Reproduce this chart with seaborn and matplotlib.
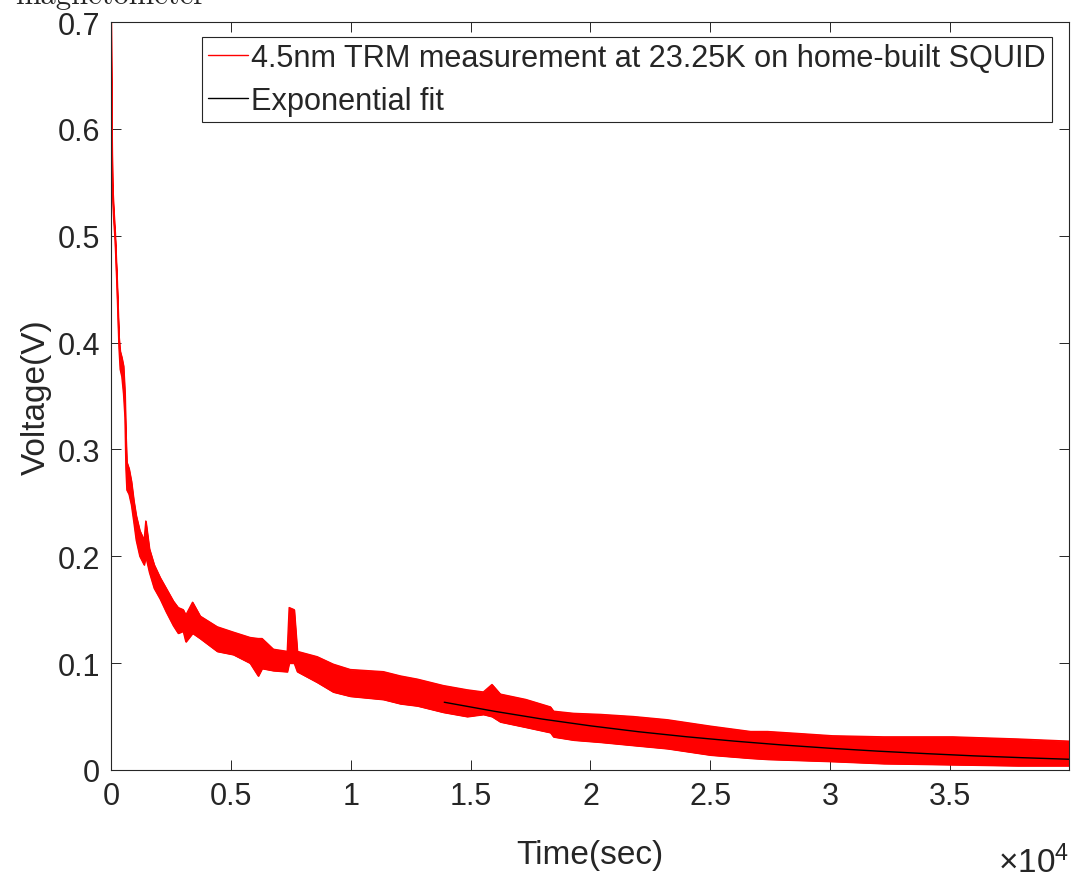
import numpy as np
import pandas as pd
import matplotlib
matplotlib.use("Agg")
import matplotlib.pyplot as plt
import seaborn as sns

# envelope of the noisy TRM trace (time in s, voltage in V)
time_s = [0, 20, 40, 60, 110, 170, 250, 330, 380, 450, 520, 580, 620, 660, 750,
          850, 950, 1050, 1200, 1380, 1450, 1600, 1800, 2050, 2300, 2600, 2800,
          3010, 3120, 3400, 3720, 4430, 5100, 5800, 6140, 6300, 6770, 7350, 7430,
          7640, 7770, 8600, 9270, 9980, 11360, 12070, 12780, 13860, 14860, 15530,
          15890, 16240, 17300, 18330, 18460, 19300, 20420, 21800, 23210, 25010,
          26680, 27390, 28770, 30100, 32240, 35110, 37830, 39960]
volt_hi = [0.700, 0.640, 0.585, 0.548, 0.525, 0.502, 0.458, 0.405, 0.392, 0.386,
           0.378, 0.352, 0.312, 0.288, 0.282, 0.270, 0.252, 0.238, 0.224, 0.215,
           0.233, 0.207, 0.192, 0.180, 0.170, 0.158, 0.152, 0.150, 0.145, 0.157,
           0.144, 0.134, 0.129, 0.124, 0.123, 0.123, 0.113, 0.111, 0.152, 0.150,
           0.111, 0.106, 0.099, 0.094, 0.092, 0.088, 0.085, 0.079, 0.075, 0.073,
           0.080, 0.071, 0.066, 0.059, 0.055, 0.053, 0.052, 0.050, 0.047, 0.041,
           0.036, 0.036, 0.034, 0.032, 0.031, 0.031, 0.029, 0.027]
volt_lo = [0.700, 0.620, 0.570, 0.540, 0.515, 0.495, 0.450, 0.395, 0.375, 0.368,
           0.352, 0.330, 0.282, 0.262, 0.258, 0.248, 0.232, 0.215, 0.200, 0.192,
           0.200, 0.185, 0.170, 0.160, 0.148, 0.135, 0.128, 0.130, 0.120, 0.128,
           0.123, 0.111, 0.108, 0.100, 0.088, 0.095, 0.093, 0.092, 0.100, 0.100,
           0.092, 0.082, 0.073, 0.069, 0.066, 0.062, 0.060, 0.054, 0.050, 0.052,
           0.050, 0.045, 0.040, 0.035, 0.031, 0.028, 0.026, 0.023, 0.020, 0.014,
           0.011, 0.010, 0.009, 0.008, 0.006, 0.005, 0.004, 0.004]

# exponential fit curve
fit_time = [13900, 16000, 18000, 20000, 22000, 24000, 26000, 28000, 30000,
            32000, 34000, 36000, 38000, 40000]
fit_volt = [0.0634, 0.0549, 0.0476, 0.0413, 0.0358, 0.0311, 0.0270, 0.0234,
            0.0203, 0.0176, 0.0153, 0.0132, 0.0115, 0.0100]

x_ticks = [0, 5000, 10000, 15000, 20000, 25000, 30000, 35000]
x_ticklabels = ["0", "0.5", "1", "1.5", "2", "2.5", "3", "3.5"]
y_ticks = [0, 0.1, 0.2, 0.3, 0.4, 0.5, 0.6, 0.7]
y_ticklabels = ["0", "0.1", "0.2", "0.3", "0.4", "0.5", "0.6", "0.7"]

trace = pd.DataFrame({"t": time_s, "hi": volt_hi, "lo": volt_lo})
fit = pd.DataFrame({"t": fit_time, "v": fit_volt})

sns.set_style("ticks")
plt.rcParams["font.family"] = ["Liberation Sans", "DejaVu Sans"]
plt.rcParams["mathtext.fontset"] = "custom"
plt.rcParams["mathtext.rm"] = "Liberation Sans"
plt.rcParams["mathtext.it"] = "Liberation Sans"

fig = plt.figure(figsize=(10.74, 8.79), dpi=100)
ax = fig.add_axes([0.1034, 0.1229, 0.8919, 0.8509])

dark = "#262626"
ax.fill_between(trace["t"], trace["lo"], trace["hi"], color="#ff0000", lw=0.8)
sns.lineplot(data=trace, x="t", y="hi", color="#ff0000", lw=1, ax=ax,
             label="4.5nm TRM measurement at 23.25K on home-built SQUID")
sns.lineplot(data=trace, x="t", y="lo", color="#ff0000", lw=1, ax=ax)
sns.lineplot(data=fit, x="t", y="v", color="black", lw=1, ax=ax,
             label="Exponential fit")

ax.set_xlim(0, 39960)
ax.set_ylim(0, 0.7)
ax.set_xticks(x_ticks)
ax.set_xticklabels(x_ticklabels)
ax.set_yticks(y_ticks)
ax.set_yticklabels(y_ticklabels)
ax.tick_params(direction="in", length=7, width=0.7, colors=dark, labelsize=22,
               top=True, right=True, pad=8)
for s in ax.spines.values():
    s.set_visible(True)
    s.set_color(dark)
    s.set_linewidth(0.8)

ax.set_xlabel("Time(sec)", fontsize=24, color=dark, labelpad=20)
ax.set_ylabel("Voltage(V)", fontsize=24, color=dark, labelpad=4)
ax.text(1.0, -0.1, r"$\times10^{4}$", transform=ax.transAxes, ha="right",
        va="top", fontsize=24, color=dark)

fig.text(0.014, 1 - 4 / 879, "magnetometer", fontfamily="cmr10", fontsize=22,
         va="baseline", ha="left")

leg = ax.legend(loc="upper right", bbox_to_anchor=(0.9823, 0.980),
                borderaxespad=0, fontsize=22.1, handlelength=1.3,
                handletextpad=0.1, labelspacing=0.42, borderpad=0.2,
                fancybox=False, framealpha=1)
leg.get_frame().set_edgecolor(dark)
leg.get_frame().set_linewidth(0.8)

fig.savefig("out.png", dpi=100)
